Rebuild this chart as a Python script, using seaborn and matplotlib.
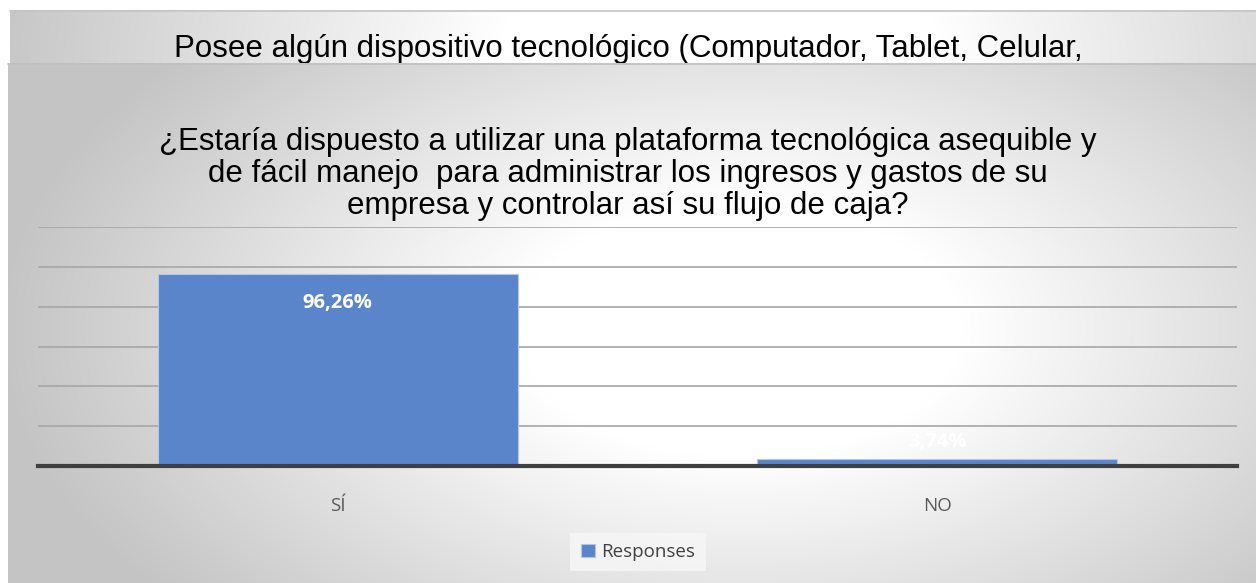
import numpy as np
import pandas as pd
import matplotlib
matplotlib.use('Agg')
import matplotlib.pyplot as plt
import seaborn as sns

# data
categories = ['SÍ', 'NO']
responses = [96.26, 3.74]
value_labels = ['96,26%', '3,74%']
series_name = 'Responses'
title_back = 'Posee algún dispositivo tecnológico (Computador, Tablet, Celular,'
title_front = ('¿Estaría dispuesto a utilizar una plataforma tecnológica asequible y\n'
               'de fácil manejo  para administrar los ingresos y gastos de su\n'
               'empresa y controlar así su flujo de caja?')
y_ticks = [0, 20, 40, 60, 80, 100, 120]

W, H = 1256, 583
BAR = '#5b85cb'

sns.set_theme(style='white')
plt.rcParams['font.family'] = ['Open Sans', 'DejaVu Sans']

fig = plt.figure(figsize=(W / 100, H / 100), dpi=100, facecolor='white')


def gradient(x0, x1, y0, y1, cx, cy, a, b):
    xs = np.arange(x0, x1) + 0.5
    ys = np.arange(y0, y1) + 0.5
    X, Y = np.meshgrid(xs, ys)
    r = np.sqrt(((X - cx) / a) ** 2 + ((Y - cy) / b) ** 2)
    t = np.clip((r - 0.3) / 0.7, 0, 1)
    g = 1.0 - 0.23 * t
    return np.dstack([g, g, g])


# background "chart area" panels drawn in pixel space
bg = fig.add_axes([0, 0, 1, 1])
bg.set_xlim(0, W)
bg.set_ylim(H, 0)
bg.axis('off')

bg.imshow(gradient(10, W, 10, 63, 720, 60, 740, 420), extent=(10, W, 63, 10),
          aspect='auto', zorder=0, interpolation='bilinear')
# back title sits low so the front panel cuts its descenders
bg.text(628, 49, title_back, ha='center', va='center', fontsize=22.5,
        family='Liberation Sans', color='black', zorder=1)
bg.imshow(gradient(8, W, 63, H, 740, 330, 740, 420), extent=(8, W, H, 63),
          aspect='auto', zorder=2, interpolation='bilinear')
bg.plot([10, W], [10.5, 10.5], color='#c4c4c4', lw=1.2, zorder=3)
bg.plot([8, W], [63.5, 63.5], color='#c0c0c0', lw=1.2, zorder=3)

bg.text(628, 174, title_front, ha='center', va='center', fontsize=22.5,
        family='Liberation Sans', color='black', linespacing=1.08, zorder=4)

# plot area
left, right, top, bottom = 38, 1237, 227, 466
ax = fig.add_axes([left / W, (H - bottom) / H, (right - left) / W, (bottom - top) / H])
ax.patch.set_alpha(0)

df = pd.DataFrame({'category': categories, 'value': responses})
sns.barplot(data=df, x='category', y='value', color=BAR, width=0.6,
            edgecolor='#b3c6ea', linewidth=0.8, saturation=1, ax=ax,
            label=series_name, zorder=2)

ax.set_ylim(0, y_ticks[-1])
ax.set_xlim(-0.5, 1.5)
ax.set_yticks(y_ticks)
ax.set_yticklabels([])
ax.tick_params(axis='y', length=0)
ax.tick_params(axis='x', length=0, pad=22, labelsize=13.5, labelcolor='#595959')
ax.yaxis.grid(True, color='#a6a6a6', lw=1.2)
ax.set_axisbelow(True)
ax.set_xlabel('')
ax.set_ylabel('')
for s in ['left', 'right', 'top']:
    ax.spines[s].set_visible(False)
ax.spines['bottom'].set_color('#3f3f3f')
ax.spines['bottom'].set_linewidth(3)
ax.spines['bottom'].set_zorder(3)

# data labels: inside end for the tall bar, just above for the short one
offsets = [-21, 12]
for i, (v, lab) in enumerate(zip(responses, value_labels)):
    ax.annotate(lab, (i, v), xytext=(0, offsets[i]), textcoords='offset points',
                ha='center', va='center', color='white', fontsize=14.5,
                fontweight='bold', zorder=4)

leg = ax.legend(loc='center', bbox_to_anchor=(638 / W, (H - 552) / H),
                bbox_transform=fig.transFigure, frameon=True, fontsize=13.5,
                handlelength=0.75, handleheight=0.75, handletextpad=0.35,
                borderpad=0.55, borderaxespad=0)
leg.get_frame().set_facecolor('#f7f7f7')
leg.get_frame().set_edgecolor('none')
leg.get_frame().set_boxstyle('square', pad=0)
for t in leg.get_texts():
    t.set_color('#404040')

fig.savefig('out.png', dpi=100)
